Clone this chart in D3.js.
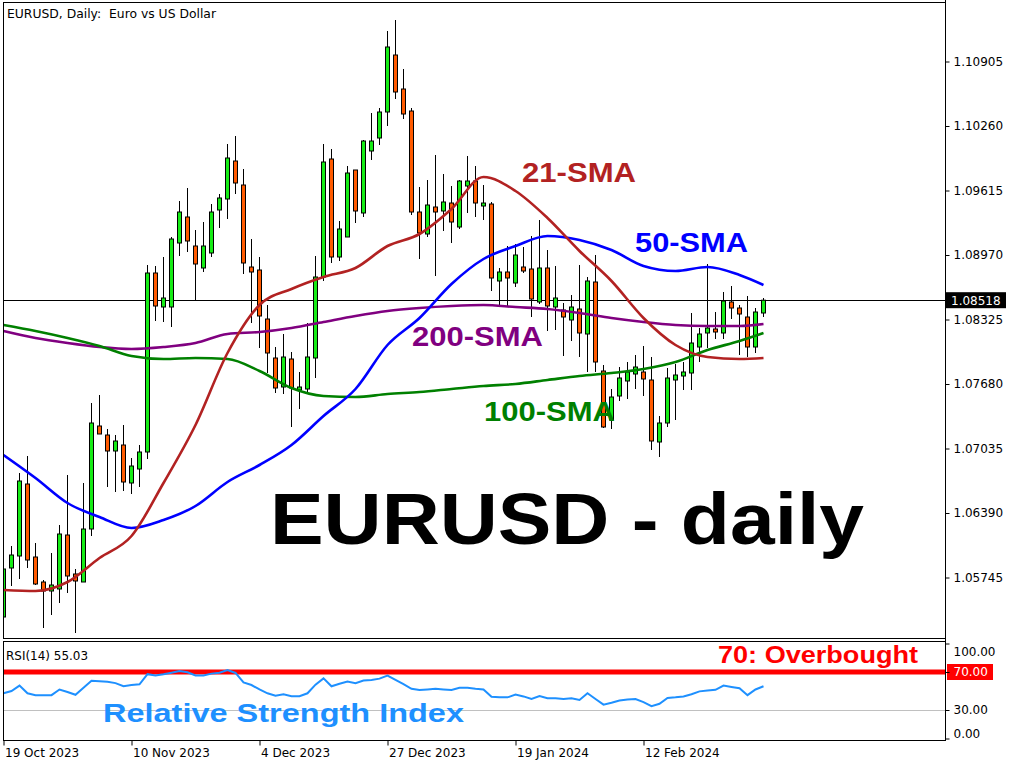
<!DOCTYPE html>
<html><head><meta charset="utf-8">
<script src="https://cdn.jsdelivr.net/npm/d3@7/dist/d3.min.js"></script>
<style>body{margin:0;background:#fff}svg{display:block}</style>
</head><body>
<script>
// ---------- DATA ----------
const dateTickIdx = [0, 16, 32, 48, 64, 80];
const dateTickLabels = ["19 Oct 2023", "10 Nov 2023", "4 Dec 2023", "27 Dec 2023", "19 Jan 2024", "12 Feb 2024"];
const priceTicks = [1.10905, 1.10260, 1.09615, 1.08970, 1.08325, 1.07680, 1.07035, 1.06390, 1.05745];
const rsiTicks = [100, 70, 30, 0];
const lastPrice = 1.08518;

const open = [1.0535,1.0584,1.0596,1.0668,1.0595,1.0570,1.0561,1.0563,1.0617,1.0578,
1.0570,1.0623,1.0726,1.0717,1.0701,1.0707,1.0669,1.0683,1.0700,1.0879,
1.0845,1.0845,1.0909,1.0935,1.0906,1.0884,1.0899,1.0942,1.0953,1.0991,
1.0967,1.0885,1.0882,1.0833,1.0794,1.0765,1.0793,1.0762,1.0763,1.0794,
1.0875,1.0993,1.0895,1.0915,1.0982,1.0939,1.1001,1.1014,1.1040,1.1097,
1.1063,1.1041,1.0940,1.0918,1.0945,1.0941,1.0949,1.0925,1.0966,1.0971,
1.0946,1.0948,1.0871,1.0880,1.0869,1.0885,1.0883,1.0850,1.0884,1.0845,
1.0842,1.0832,1.0843,1.0818,1.0870,1.0781,1.0732,1.0756,1.0771,1.0778,
1.0780,1.0772,1.0710,1.0729,1.0772,1.0776,1.0779,1.0805,1.0819,1.0823,
1.0819,1.0850,1.0844,1.0835,1.0805,1.0839];
const high = [1.0589,1.0606,1.0679,1.0696,1.0609,1.0572,1.0599,1.0627,1.0677,1.0583,
1.0669,1.0749,1.0757,1.0723,1.0717,1.0727,1.0694,1.0707,1.0887,1.0886,
1.0895,1.0915,1.0951,1.0964,1.0922,1.0930,1.0948,1.0958,1.1008,1.1016,
1.0983,1.0913,1.0895,1.0847,1.0805,1.0818,1.0800,1.0780,1.0829,1.0896,
1.1008,1.1003,1.0931,1.0986,1.0982,1.1012,1.1039,1.1044,1.1121,1.1132,
1.1083,1.1044,1.0965,1.0972,1.0997,1.0978,1.0966,1.0972,1.0996,1.0986,
1.0967,1.0950,1.0884,1.0906,1.0908,1.0905,1.0916,1.0932,1.0902,1.0886,
1.0849,1.0857,1.0887,1.0875,1.0897,1.0787,1.0763,1.0785,1.0790,1.0797,
1.0806,1.0795,1.0736,1.0784,1.0788,1.0790,1.0839,1.0824,1.0888,1.0840,
1.0860,1.0866,1.0847,1.0856,1.0844,1.0854];
const low = [1.0530,1.0566,1.0573,1.0584,1.0567,1.0524,1.0537,1.0549,1.0559,1.0519,
1.0570,1.0616,1.0718,1.0665,1.0660,1.0661,1.0658,1.0665,1.0693,1.0831,
1.0830,1.0825,1.0896,1.0900,1.0852,1.0880,1.0895,1.0924,1.0933,1.0958,
1.0878,1.0829,1.0804,1.0779,1.0759,1.0758,1.0725,1.0743,1.0760,1.0774,
1.0871,1.0889,1.0891,1.0915,1.0929,1.0935,1.0992,1.1007,1.1026,1.1053,
1.1033,1.0937,1.0893,1.0915,1.0876,1.0921,1.0909,1.0923,1.0939,1.0935,
1.0932,1.0861,1.0845,1.0845,1.0865,1.0879,1.0835,1.0848,1.0821,1.0822,
1.0796,1.0811,1.0795,1.0780,1.0780,1.0724,1.0723,1.0751,1.0753,1.0763,
1.0756,1.0702,1.0695,1.0725,1.0732,1.0762,1.0762,1.0790,1.0804,1.0813,
1.0813,1.0833,1.0797,1.0795,1.0799,1.0835];
const close = [1.0583,1.0597,1.0671,1.0592,1.0568,1.0561,1.0567,1.0618,1.0576,1.0571,
1.0623,1.0729,1.0718,1.0701,1.0711,1.0670,1.0686,1.0700,1.0879,1.0846,
1.0854,1.0913,1.0940,1.0911,1.0888,1.0906,1.0940,1.0954,1.0994,1.0969,
1.0889,1.0880,1.0836,1.0799,1.0764,1.0795,1.0764,1.0765,1.0795,1.0875,
1.0990,1.0895,1.0923,1.0979,1.0941,1.1011,1.1011,1.1040,1.1105,1.1060,
1.1038,1.0940,1.0919,1.0947,1.0940,1.0950,1.0930,1.0971,1.0971,1.0949,
1.0949,1.0874,1.0880,1.0874,1.0897,1.0881,1.0853,1.0884,1.0846,1.0854,
1.0835,1.0845,1.0819,1.0871,1.0790,1.0725,1.0755,1.0774,1.0780,1.0785,
1.0773,1.0711,1.0729,1.0774,1.0777,1.0780,1.0809,1.0818,1.0824,1.0820,
1.0851,1.0844,1.0838,1.0805,1.0840,1.08518];

const smaIdx = [0,4,8,12,16,20,24,28,32,36,40,44,48,52,56,60,64,68,72,76,80,84,88,92,95];
const sma21 = [1.0562,1.0561,1.0570,1.0594,1.0616,1.0669,1.0727,1.0799,1.0847,1.0863,1.0875,1.0884,1.0906,1.0918,1.0943,1.0975,1.0961,1.0934,1.0901,1.0871,1.0834,1.0807,1.0795,1.0793,1.0794];
const sma50 = [1.0697,1.0674,1.0649,1.0635,1.0624,1.0632,1.0646,1.0670,1.0687,1.0707,1.0736,1.0763,1.0807,1.0834,1.0868,1.0893,1.0906,1.0916,1.0912,1.0902,1.0886,1.0881,1.0885,1.0877,1.0867];
const sma100 = [1.0827,1.0821,1.0814,1.0806,1.0796,1.0793,1.0794,1.0793,1.0781,1.0764,1.0756,1.0755,1.0758,1.0760,1.0763,1.0766,1.0768,1.0772,1.0776,1.0779,1.0783,1.0790,1.0802,1.0811,1.0819];
const sma200 = [1.0821,1.0814,1.0809,1.0805,1.0803,1.0805,1.0809,1.0818,1.0820,1.0824,1.0830,1.0836,1.0841,1.0844,1.0846,1.0847,1.0845,1.0843,1.0839,1.0834,1.0830,1.0827,1.0826,1.0826,1.0828];

const rsi = [47.6,50,55.7,47.6,45.6,45.6,45.6,51.6,49,46,
53.3,60.7,60.3,59.7,58.3,55,56.3,57,67.7,66.3,
67.7,69.3,71,69.7,66.3,66.3,68.3,69.3,72,69,
59,56.3,51.6,47.6,45,46.6,44.6,44.6,47.6,56.7,
63.3,55,57.7,60,58.3,61,61.7,63,66.3,61.7,
57.3,52.3,51,51.6,52.3,51.6,51,53.3,53.3,52.3,
51.6,44,43.3,43.3,46.3,44.3,41.6,44.6,42.3,42.3,
41.6,42.3,40.6,47.6,41.6,35.6,37.6,40,41,41.6,
38.3,34,36.6,42.6,43.3,44.3,46.6,49.6,50.6,51.3,
55.7,54.3,53,45.6,51.6,55.03];

// ---------- LAYOUT ----------
const W = 1024, H = 768;
const L = 3, R = 945;
const mainTop = 3, mainBot = 638.5;
const rsiTop = 641.5, rsiBot = 740.5;

const svg = d3.select("body").append("svg").attr("width", W).attr("height", H)
  .style("font-family", "'DejaVu Sans', sans-serif");

const x = d3.scaleLinear().domain([0, 117.75]).range([L + 0.5, R + 0.5]);
const y = d3.scaleLinear().domain([1.0514, 1.1152]).range([638, 0]);
const yr = d3.scaleLinear().domain([0, 100]).range([738.5, 643.5]);

const defs = svg.append("defs");
defs.append("clipPath").attr("id", "cMain").append("rect")
  .attr("x", L).attr("y", mainTop).attr("width", R - L).attr("height", mainBot - mainTop);
defs.append("clipPath").attr("id", "cRsi").append("rect")
  .attr("x", L).attr("y", rsiTop).attr("width", R - L).attr("height", rsiBot - rsiTop);

const gMain = svg.append("g").attr("clip-path", "url(#cMain)");

// current price line
gMain.append("line").attr("x1", L).attr("x2", R).attr("y1", Math.round(y(lastPrice)) + 0.5).attr("y2", Math.round(y(lastPrice)) + 0.5)
  .attr("stroke", "#000").attr("stroke-width", 1);

// candles
const idx = d3.range(open.length);
const candle = gMain.selectAll("g.c").data(idx).join("g").attr("class", "c");
candle.append("line")
  .attr("x1", i => x(i)).attr("x2", i => x(i))
  .attr("y1", i => y(high[i])).attr("y2", i => y(low[i]))
  .attr("stroke", "#000").attr("stroke-width", 1);
candle.append("rect")
  .attr("x", i => x(i) - 2).attr("width", 4)
  .attr("y", i => Math.min(y(open[i]), y(close[i])))
  .attr("height", i => Math.max(1, Math.abs(y(open[i]) - y(close[i]))))
  .attr("fill", i => close[i] >= open[i] ? "#16EC16" : "#FF5A00")
  .attr("stroke", "#000").attr("stroke-width", 1);

// SMAs
const smaLine = d3.line().x(d => x(d[0])).y(d => y(d[1])).curve(d3.curveMonotoneX);
[[sma200, "#800080"], [sma100, "#008000"], [sma50, "#0000FF"], [sma21, "#B22222"]].forEach(([arr, col]) => {
  gMain.append("path").datum(smaIdx.map((k, j) => [k, arr[j]]))
    .attr("d", smaLine).attr("fill", "none").attr("stroke", col).attr("stroke-width", 2.6);
});

// annotations main
function label(g, txt, xL, base, size, len, col) {
  g.append("text").text(txt).attr("x", xL).attr("y", base)
    .attr("font-family", "'Liberation Sans', Arial, sans-serif").attr("font-weight", "bold")
    .attr("font-size", size).attr("fill", col)
    .attr("textLength", len).attr("lengthAdjust", "spacingAndGlyphs");
}
label(svg, "21-SMA", 522, 182, 28, 114, "#B22222");
label(svg, "50-SMA", 635, 252, 28, 113, "#0000FF");
label(svg, "200-SMA", 412, 346, 28, 131, "#800080");
label(svg, "100-SMA", 484, 421, 28, 131, "#008000");
label(svg, "EURUSD - daily", 270, 544, 72, 594, "#000");

svg.append("text").text("EURUSD, Daily:  Euro vs US Dollar").attr("x", 7).attr("y", 18)
  .style("white-space", "pre").attr("xml:space", "preserve")
  .attr("font-size", 12).attr("fill", "#000").attr("textLength", 209).attr("lengthAdjust", "spacingAndGlyphs");

// ---------- RSI panel ----------
const gR = svg.append("g").attr("clip-path", "url(#cRsi)");
gR.append("line").attr("x1", L).attr("x2", R).attr("y1", Math.round(yr(30)) + 0.5).attr("y2", Math.round(yr(30)) + 0.5)
  .attr("stroke", "#C0C0C0").attr("stroke-width", 1);
gR.append("line").attr("x1", L).attr("x2", R).attr("y1", yr(70)).attr("y2", yr(70))
  .attr("stroke", "#FF0000").attr("stroke-width", 5);
gR.append("path").datum(idx)
  .attr("d", d3.line().x(i => x(i)).y(i => yr(rsi[i])))
  .attr("fill", "none").attr("stroke", "#1E90FF").attr("stroke-width", 2);

svg.append("text").text("RSI(14) " + rsi[rsi.length - 1].toFixed(2)).attr("x", 6).attr("y", 660)
  .attr("font-size", 12).attr("fill", "#000").attr("textLength", 82).attr("lengthAdjust", "spacingAndGlyphs");
label(svg, "70: Overbought", 718, 663, 24, 200, "#FF0000");
label(svg, "Relative Strength Index", 103, 722, 25, 361, "#1E90FF");

// ---------- frames ----------
svg.append("rect").attr("x", L + 0.5).attr("y", mainTop - 0.5).attr("width", R - L).attr("height", mainBot - mainTop + 0.5)
  .attr("fill", "none").attr("stroke", "#000");
svg.append("rect").attr("x", L + 0.5).attr("y", rsiTop).attr("width", R - L).attr("height", rsiBot - rsiTop)
  .attr("fill", "none").attr("stroke", "#000");

// ---------- axes ----------
const fmt5 = d3.format(".5f");
const ay = svg.append("g").attr("transform", `translate(${R + 0.5},0)`)
  .call(d3.axisRight(y).tickValues(priceTicks).tickFormat(fmt5).tickSize(4).tickPadding(4));
ay.select(".domain").remove();
ay.selectAll("text").attr("font-size", 12).attr("font-family", "'DejaVu Sans', sans-serif").attr("fill", "#000");

// last price box
const ly = y(lastPrice);
svg.append("rect").attr("x", R + 1).attr("y", ly - 8).attr("width", 60).attr("height", 16).attr("fill", "#000");
svg.append("text").text(fmt5(lastPrice)).attr("x", R + 6).attr("y", ly + 4.5).attr("font-size", 12).attr("fill", "#fff");

const ar = svg.append("g").attr("transform", `translate(${R + 0.5},0)`)
  .call(d3.axisRight(yr).tickValues(rsiTicks).tickFormat(d3.format(".2f")).tickSize(4).tickPadding(4));
ar.select(".domain").remove();
ar.selectAll("text").attr("font-size", 12).attr("font-family", "'DejaVu Sans', sans-serif").attr("fill", "#000")
  .attr("dy", d => d === 100 ? "1.0em" : d === 0 ? "-0.1em" : "0.32em");
// 70 label box
const y70 = yr(70);
svg.append("rect").attr("x", R + 2).attr("y", y70 - 8).attr("width", 46).attr("height", 16).attr("fill", "#FF0000");
ar.selectAll(".tick").filter(d => d === 70).raise().select("text").attr("fill", "#fff");
ar.raise();

// date axis
const ax = svg.append("g").attr("transform", `translate(0,${rsiBot})`)
  .call(d3.axisBottom(x).tickValues(dateTickIdx).tickFormat((d, i) => dateTickLabels[i]).tickSize(5).tickPadding(3));
ax.select(".domain").remove();
ax.selectAll("text").attr("font-size", 12).attr("font-family", "'DejaVu Sans', sans-serif").attr("fill", "#000")
  .attr("text-anchor", "start").attr("dx", 1);
// right axis vertical line full height
svg.append("line").attr("x1", R + 0.5).attr("x2", R + 0.5).attr("y1", 0).attr("y2", rsiBot).attr("stroke", "#000");
</script>
</body></html>
